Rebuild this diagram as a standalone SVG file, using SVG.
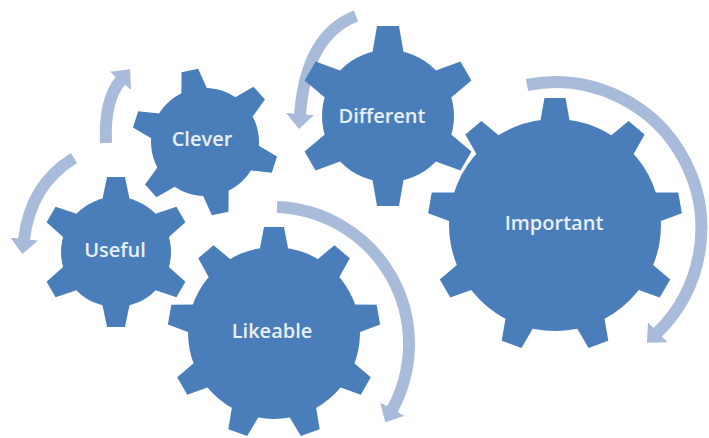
<svg xmlns="http://www.w3.org/2000/svg" xmlns:xlink="http://www.w3.org/1999/xlink" width="709" height="438" viewBox="0 0 709 438">
<style>
.gear { fill: #4a7ebb; }
.lbl { font-family: "Open Sans", "Liberation Sans", sans-serif; font-weight: 600; font-size: 20px; fill: #e9eff7; text-anchor: middle; }
.arr { fill: none; stroke: #a8bbda; stroke-width: 12; marker-end: url(#ah); }
</style>
<defs>
<marker id="ah" viewBox="0 0 15 28" refX="1" refY="14" markerWidth="15" markerHeight="28" markerUnits="userSpaceOnUse" orient="auto">
<path d="M0,0 L15,14 L0,28 Z" fill="#a8bbda"/>
</marker>
<path id="tS" d="M-13.5,-45 L-13.5,-53.3 L-9,-75 L9,-75 L13.5,-53.3 L13.5,-45 Z"/>
<path id="tC" d="M-13,-45 L-13,-52.4 L-8.5,-73 L8.5,-73 L13,-52.4 L13,-45 Z"/>
<path id="tD" d="M-15.5,-55 L-15.5,-64 L-11,-90 L11,-90 L15.5,-64 L15.5,-55 Z"/>
<path id="tI" d="M-14.5,-95 L-14.5,-105 L-10.5,-127 L10.5,-127 L14.5,-105 L14.5,-95 Z"/>
<path id="tL" d="M-14,-76 L-14,-85 L-10,-106 L10,-106 L14,-85 L14,-76 Z"/>
</defs>
<g id="connectors">
<path class="arr" d="M74,158 Q30,185 24,240"/>
<path class="arr" d="M106,143 Q104,100 121,80"/>
<path class="arr" d="M356,16 Q306,35 300,115"/>
<path class="arr" d="M527,85 A146,146 0 0 1 657,333"/>
<path class="arr" d="M277,207 A137,137 0 0 1 392,410"/>
</g>
<g id="useful">
<g class="gear" transform="translate(116,252)">
<circle r="55"/>
<use href="#tS"/><use href="#tS" transform="rotate(60)"/><use href="#tS" transform="rotate(120)"/><use href="#tS" transform="rotate(180)"/><use href="#tS" transform="rotate(240)"/><use href="#tS" transform="rotate(300)"/>
</g>
<text class="lbl" x="115" y="257">Useful</text>
</g>
<g id="clever">
<g class="gear" transform="translate(205,142)">
<circle r="54"/>
<use href="#tC" transform="rotate(-12)"/><use href="#tC" transform="rotate(48)"/><use href="#tC" transform="rotate(108)"/><use href="#tC" transform="rotate(168)"/><use href="#tC" transform="rotate(228)"/><use href="#tC" transform="rotate(288)"/>
</g>
<text class="lbl" x="202" y="146">Clever</text>
</g>
<g id="different">
<g class="gear" transform="translate(388,116)">
<circle r="66"/>
<use href="#tD"/><use href="#tD" transform="rotate(60)"/><use href="#tD" transform="rotate(120)"/><use href="#tD" transform="rotate(180)"/><use href="#tD" transform="rotate(240)"/><use href="#tD" transform="rotate(300)"/>
</g>
<text class="lbl" x="382" y="123">Different</text>
</g>
<g id="important">
<g class="gear" transform="translate(555,225)">
<circle r="106"/>
<use href="#tI"/><use href="#tI" transform="rotate(40)"/><use href="#tI" transform="rotate(80)"/><use href="#tI" transform="rotate(120)"/><use href="#tI" transform="rotate(160)"/><use href="#tI" transform="rotate(200)"/><use href="#tI" transform="rotate(240)"/><use href="#tI" transform="rotate(280)"/><use href="#tI" transform="rotate(320)"/>
</g>
<text class="lbl" x="554" y="230">Important</text>
</g>
<g id="likeable">
<g class="gear" transform="translate(274,333)">
<circle r="86"/>
<use href="#tL"/><use href="#tL" transform="rotate(40)"/><use href="#tL" transform="rotate(80)"/><use href="#tL" transform="rotate(120)"/><use href="#tL" transform="rotate(160)"/><use href="#tL" transform="rotate(200)"/><use href="#tL" transform="rotate(240)"/><use href="#tL" transform="rotate(280)"/><use href="#tL" transform="rotate(320)"/>
</g>
<text class="lbl" x="272" y="338">Likeable</text>
</g>
</svg>
